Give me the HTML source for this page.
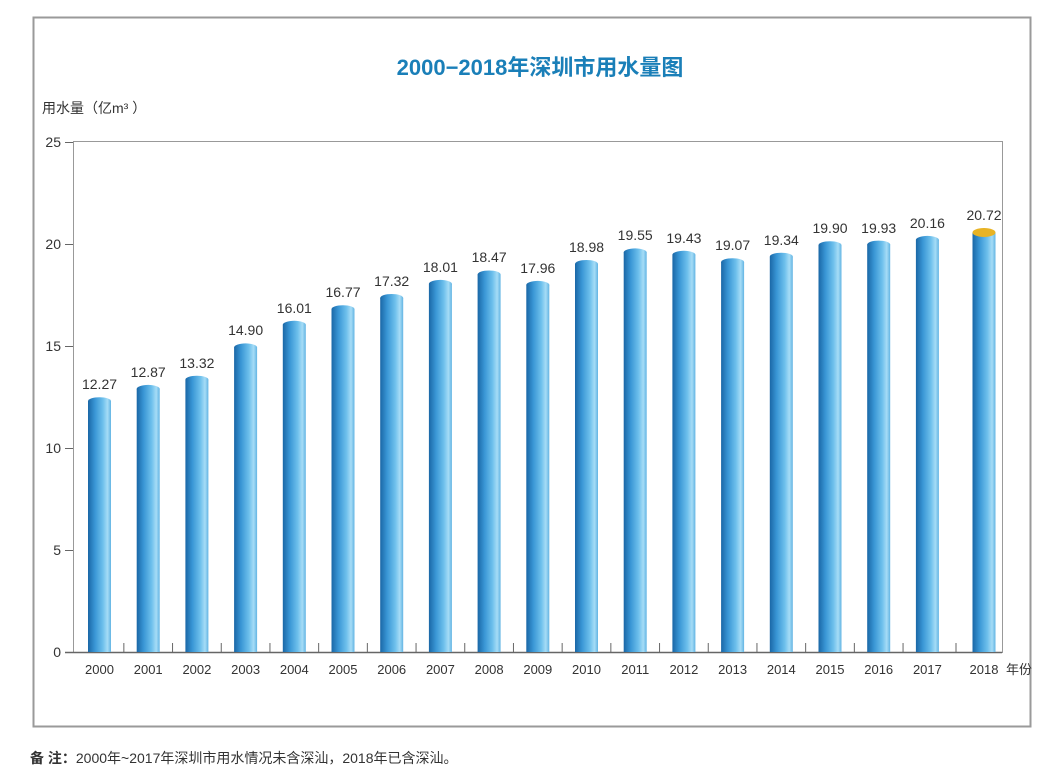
<!DOCTYPE html>
<html><head><meta charset="utf-8"><style>body{margin:0;background:#fff}svg{display:block}</style></head><body>
<svg width="1061" height="778" xmlns="http://www.w3.org/2000/svg" font-family="'Liberation Sans','Noto Sans CJK SC',sans-serif">
<defs>
<linearGradient id="g" x1="0" x2="1" y1="0" y2="0">
<stop offset="0" stop-color="#1a67a6"/><stop offset="0.3" stop-color="#3996d5"/><stop offset="0.65" stop-color="#6ec0ec"/><stop offset="0.85" stop-color="#a6dcf6"/><stop offset="1" stop-color="#62b4e3"/></linearGradient>
</defs>
<rect x="33.5" y="17.5" width="997" height="709" fill="none" stroke="#9a9a9a" stroke-width="2"/>
<text x="540" y="75" text-anchor="middle" font-size="22" font-weight="bold" fill="#1a7fb8">2000−2018年深圳市用水量图</text>
<text x="42" y="113" font-size="14" fill="#333">用水量（亿m³ ）</text>
<rect x="73.5" y="141.5" width="929" height="511" fill="none" stroke="#999" stroke-width="1"/>
<g font-size="14" fill="#333" text-anchor="end">
<text x="61" y="657">0</text><text x="61" y="555">5</text><text x="61" y="453">10</text><text x="61" y="351">15</text><text x="61" y="249">20</text><text x="61" y="147">25</text>
</g>
<g stroke="#666" stroke-width="1">
<line x1="65" x2="1002" y1="652.5" y2="652.5" stroke-width="1.5"/>
<line x1="65" x2="73" y1="550.5" y2="550.5"/><line x1="65" x2="73" y1="448.5" y2="448.5"/><line x1="65" x2="73" y1="346.5" y2="346.5"/><line x1="65" x2="73" y1="244.5" y2="244.5"/><line x1="65" x2="73" y1="142.5" y2="142.5"/>
<line x1="123.85" x2="123.85" y1="643" y2="652"/><line x1="172.55" x2="172.55" y1="643" y2="652"/><line x1="221.25" x2="221.25" y1="643" y2="652"/><line x1="269.95" x2="269.95" y1="643" y2="652"/><line x1="318.65" x2="318.65" y1="643" y2="652"/><line x1="367.35" x2="367.35" y1="643" y2="652"/><line x1="416.05" x2="416.05" y1="643" y2="652"/><line x1="464.75" x2="464.75" y1="643" y2="652"/><line x1="513.45" x2="513.45" y1="643" y2="652"/><line x1="562.15" x2="562.15" y1="643" y2="652"/><line x1="610.85" x2="610.85" y1="643" y2="652"/><line x1="659.55" x2="659.55" y1="643" y2="652"/><line x1="708.25" x2="708.25" y1="643" y2="652"/><line x1="756.95" x2="756.95" y1="643" y2="652"/><line x1="805.65" x2="805.65" y1="643" y2="652"/><line x1="854.35" x2="854.35" y1="643" y2="652"/><line x1="903.05" x2="903.05" y1="643" y2="652"/><line x1="956" x2="956" y1="643" y2="652"/>
</g>
<g font-size="14" fill="#333" text-anchor="middle">
<g transform="translate(99.5,0)"><rect x="-11.5" y="401.2" width="23" height="250.8" fill="url(#g)"/><ellipse cx="0" cy="401.2" rx="11.5" ry="4" fill="url(#g)"/><text y="389">12.27</text><text y="674" font-size="13">2000</text></g>
<g transform="translate(148.2,0)"><rect x="-11.5" y="388.9" width="23" height="263.1" fill="url(#g)"/><ellipse cx="0" cy="388.9" rx="11.5" ry="4" fill="url(#g)"/><text y="377">12.87</text><text y="674" font-size="13">2001</text></g>
<g transform="translate(196.9,0)"><rect x="-11.5" y="379.7" width="23" height="272.3" fill="url(#g)"/><ellipse cx="0" cy="379.7" rx="11.5" ry="4" fill="url(#g)"/><text y="368">13.32</text><text y="674" font-size="13">2002</text></g>
<g transform="translate(245.6,0)"><rect x="-11.5" y="347.4" width="23" height="304.6" fill="url(#g)"/><ellipse cx="0" cy="347.4" rx="11.5" ry="4" fill="url(#g)"/><text y="335">14.90</text><text y="674" font-size="13">2003</text></g>
<g transform="translate(294.3,0)"><rect x="-11.5" y="324.8" width="23" height="327.2" fill="url(#g)"/><ellipse cx="0" cy="324.8" rx="11.5" ry="4" fill="url(#g)"/><text y="313">16.01</text><text y="674" font-size="13">2004</text></g>
<g transform="translate(343,0)"><rect x="-11.5" y="309.2" width="23" height="342.8" fill="url(#g)"/><ellipse cx="0" cy="309.2" rx="11.5" ry="4" fill="url(#g)"/><text y="297">16.77</text><text y="674" font-size="13">2005</text></g>
<g transform="translate(391.7,0)"><rect x="-11.5" y="298" width="23" height="354" fill="url(#g)"/><ellipse cx="0" cy="298" rx="11.5" ry="4" fill="url(#g)"/><text y="286">17.32</text><text y="674" font-size="13">2006</text></g>
<g transform="translate(440.4,0)"><rect x="-11.5" y="283.9" width="23" height="368.1" fill="url(#g)"/><ellipse cx="0" cy="283.9" rx="11.5" ry="4" fill="url(#g)"/><text y="272">18.01</text><text y="674" font-size="13">2007</text></g>
<g transform="translate(489.1,0)"><rect x="-11.5" y="274.5" width="23" height="377.5" fill="url(#g)"/><ellipse cx="0" cy="274.5" rx="11.5" ry="4" fill="url(#g)"/><text y="262">18.47</text><text y="674" font-size="13">2008</text></g>
<g transform="translate(537.8,0)"><rect x="-11.5" y="284.9" width="23" height="367.1" fill="url(#g)"/><ellipse cx="0" cy="284.9" rx="11.5" ry="4" fill="url(#g)"/><text y="273">17.96</text><text y="674" font-size="13">2009</text></g>
<g transform="translate(586.5,0)"><rect x="-11.5" y="264" width="23" height="388" fill="url(#g)"/><ellipse cx="0" cy="264" rx="11.5" ry="4" fill="url(#g)"/><text y="252">18.98</text><text y="674" font-size="13">2010</text></g>
<g transform="translate(635.2,0)"><rect x="-11.5" y="252.4" width="23" height="399.6" fill="url(#g)"/><ellipse cx="0" cy="252.4" rx="11.5" ry="4" fill="url(#g)"/><text y="240">19.55</text><text y="674" font-size="13">2011</text></g>
<g transform="translate(683.9,0)"><rect x="-11.5" y="254.8" width="23" height="397.2" fill="url(#g)"/><ellipse cx="0" cy="254.8" rx="11.5" ry="4" fill="url(#g)"/><text y="243">19.43</text><text y="674" font-size="13">2012</text></g>
<g transform="translate(732.6,0)"><rect x="-11.5" y="262.2" width="23" height="389.8" fill="url(#g)"/><ellipse cx="0" cy="262.2" rx="11.5" ry="4" fill="url(#g)"/><text y="250">19.07</text><text y="674" font-size="13">2013</text></g>
<g transform="translate(781.3,0)"><rect x="-11.5" y="256.7" width="23" height="395.3" fill="url(#g)"/><ellipse cx="0" cy="256.7" rx="11.5" ry="4" fill="url(#g)"/><text y="245">19.34</text><text y="674" font-size="13">2014</text></g>
<g transform="translate(830,0)"><rect x="-11.5" y="245.2" width="23" height="406.8" fill="url(#g)"/><ellipse cx="0" cy="245.2" rx="11.5" ry="4" fill="url(#g)"/><text y="233">19.90</text><text y="674" font-size="13">2015</text></g>
<g transform="translate(878.7,0)"><rect x="-11.5" y="244.6" width="23" height="407.4" fill="url(#g)"/><ellipse cx="0" cy="244.6" rx="11.5" ry="4" fill="url(#g)"/><text y="233">19.93</text><text y="674" font-size="13">2016</text></g>
<g transform="translate(927.4,0)"><rect x="-11.5" y="239.9" width="23" height="412.1" fill="url(#g)"/><ellipse cx="0" cy="239.9" rx="11.5" ry="4" fill="url(#g)"/><text y="228">20.16</text><text y="674" font-size="13">2017</text></g>
<g transform="translate(984,0)"><rect x="-11.5" y="232.5" width="23" height="419.5" fill="url(#g)"/><ellipse cx="0" cy="232.5" rx="11.5" ry="4.5" fill="#e8b324"/><text y="220">20.72</text><text y="674" font-size="13">2018</text></g>
</g>
<text x="1006" y="674" font-size="13" fill="#333">年份</text>
<text x="30" y="763" font-size="14" fill="#333"><tspan font-weight="bold">备 注：</tspan>2000年~2017年深圳市用水情况未含深汕，2018年已含深汕。</text>
</svg>
</body></html>
